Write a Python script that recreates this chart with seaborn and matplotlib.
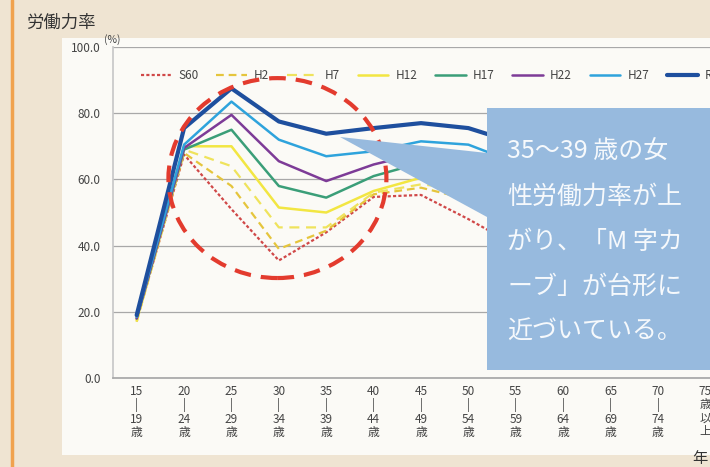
import matplotlib
matplotlib.use('Agg')
import matplotlib.pyplot as plt
import seaborn as sns
import pandas as pd
from matplotlib.patches import Ellipse, Polygon, Rectangle
from matplotlib.lines import Line2D

# 年齢階級
age_labels = ['15\n|\n19\n歳', '20\n|\n24\n歳', '25\n|\n29\n歳', '30\n|\n34\n歳',
              '35\n|\n39\n歳', '40\n|\n44\n歳', '45\n|\n49\n歳', '50\n|\n54\n歳',
              '55\n|\n59\n歳', '60\n|\n64\n歳', '65\n|\n69\n歳', '70\n|\n74\n歳',
              '75\n歳\n以\n上']
years = ['S60', 'H2', 'H7', 'H12', 'H17', 'H22', 'H27', 'R2']

# 女性の労働力率 (%)  -- 55歳以上は吹き出しに隠れている部分
s60 = [17.5, 67.5, 51.0, 35.5, 44.0, 54.7, 55.3, 48.0, 40.0, 29.0, 18.0, 11.0, 4.0]
h2 = [17.0, 68.0, 58.0, 39.0, 44.5, 55.5, 57.5, 54.0, 44.0, 31.0, 19.0, 11.0, 4.0]
h7 = [17.0, 69.0, 64.0, 45.5, 45.5, 56.0, 58.5, 57.0, 48.0, 33.0, 20.0, 12.0, 4.0]
h12 = [17.5, 70.0, 70.0, 51.5, 50.0, 56.5, 60.5, 60.0, 52.0, 35.0, 21.0, 12.0, 4.0]
h17 = [18.0, 69.0, 75.0, 58.0, 54.5, 61.0, 65.0, 64.0, 56.0, 38.0, 22.0, 13.0, 4.0]
h22 = [18.0, 69.5, 79.5, 65.5, 59.5, 64.5, 68.0, 67.0, 60.0, 42.0, 25.0, 14.0, 4.0]
h27 = [18.5, 70.5, 83.5, 72.0, 67.0, 68.5, 71.5, 70.5, 65.0, 48.0, 30.0, 17.0, 5.0]
r2 = [19.0, 75.5, 87.5, 77.5, 73.8, 75.5, 77.0, 75.5, 71.0, 56.0, 38.0, 22.0, 6.0]

y_ticks = [0, 20, 40, 60, 80, 100]
note = ['35～39 歳の女', '性労働力率が上', 'がり、「M 字カ', 'ーブ」が台形に', '近づいている。']

rows = []
for yr, vals in zip(years, [s60, h2, h7, h12, h17, h22, h27, r2]):
    for i, v in enumerate(vals):
        rows.append({'age': i, 'rate': v, 'year': yr})
df = pd.DataFrame(rows)

styles = {
    'S60': dict(color='#d04848', lw=1.6, ls=(0, (1.4, 1.0))),
    'H2': dict(color='#e5c53c', lw=1.6, ls=(0, (3.5, 2.2))),
    'H7': dict(color='#efe35c', lw=1.6, ls=(0, (4.5, 3.0))),
    'H12': dict(color='#f2e642', lw=1.8, ls='-'),
    'H17': dict(color='#3a9e78', lw=1.8, ls='-'),
    'H22': dict(color='#7d3b97', lw=1.8, ls='-'),
    'H27': dict(color='#2ea3dc', lw=1.8, ls='-'),
    'R2': dict(color='#1e4f9e', lw=3.0, ls='-'),
}

sns.set_theme(style='white')
plt.rcParams['font.family'] = ['Noto Sans CJK JP', 'DejaVu Sans']

W, H = 710, 467
fig = plt.figure(figsize=(7.1, 4.67), dpi=100)
fig.patch.set_facecolor('#efe4d2')

def fx(x):
    return x / W

def fy(y):
    return 1 - y / H

# 白い紙面
fig.add_artist(Rectangle((fx(62), fy(455)), fx(710) - fx(62), fy(38) - fy(455),
                         transform=fig.transFigure, fc='#fbfaf6', ec='none', zorder=-2))
fig.add_artist(Line2D([fx(12), fx(12)], [0, 1], transform=fig.transFigure,
                      color='#f0a24e', lw=2.5, zorder=-1))

ax = fig.add_axes([113 / W, 89 / H, (729 - 113) / W, 331 / H])
ax.set_facecolor('none')

for yr in years:
    d = df[df['year'] == yr]
    st = styles[yr]
    sns.lineplot(data=d, x='age', y='rate', ax=ax, color=st['color'], lw=st['lw'],
                 linestyle=st['ls'], label=yr, zorder=3 if yr != 'R2' else 4)

ax.set_xlim(-0.5, 12.5)
ax.set_ylim(0, 100)
ax.set_yticks(y_ticks)
ax.set_yticklabels([f'{v:.1f}' for v in y_ticks], fontsize=8.5, color='#444444')
ax.set_xticks(range(len(age_labels)))
ax.set_xticklabels(age_labels, fontsize=8.5, color='#444444', linespacing=1.05, va='top')
ax.tick_params(axis='both', length=0)
ax.tick_params(axis='y', pad=9)
ax.tick_params(axis='x', pad=5)
ax.set_xlabel('')
ax.set_ylabel('')
ax.grid(axis='y', color='#a8a8a8', lw=0.9)
for s in ['top', 'right']:
    ax.spines[s].set_visible(False)
ax.spines['left'].set_color('#c8c8c8')
ax.spines['bottom'].set_color('#a8a8a8')

ax.legend(ncol=8, loc='center left', bbox_to_anchor=(0.045, 0.915), frameon=False,
          fontsize=8.5, handlelength=2.6, handletextpad=0.6, columnspacing=1.5,
          borderaxespad=0, borderpad=0, labelcolor='#444444')

# M字の赤い破線の楕円
ax.add_patch(Ellipse((2.97, 60.4), 4.6, 60.4, fill=False, ec='#e33b2e', lw=3.0,
                     ls=(0, (4, 2.4)), zorder=6, clip_on=False))

# 吹き出し
pts = [(340, 137), (487, 153), (487, 108), (715, 108), (715, 370), (487, 370), (487, 217)]
ax.add_patch(Polygon([(fx(x), fy(y)) for x, y in pts], closed=True, transform=fig.transFigure,
                     fc='#97bade', ec='none', zorder=10, clip_on=False))
for i, line in enumerate(note):
    fig.text(fx(507), fy(152 + 45 * i), line, fontsize=18, color='#f6f9fc',
             ha='left', va='center', zorder=11)

fig.text(fx(26), fy(23), '労働力率', fontsize=12.5, color='#333333', ha='left', va='center')
fig.text(fx(104), fy(40), '(%)', fontsize=7.5, color='#444444', ha='left', va='center')
fig.text(fx(692), fy(458), '年', fontsize=11, color='#333333', ha='left', va='center')

fig.savefig('out.png', dpi=100, facecolor=fig.get_facecolor())
